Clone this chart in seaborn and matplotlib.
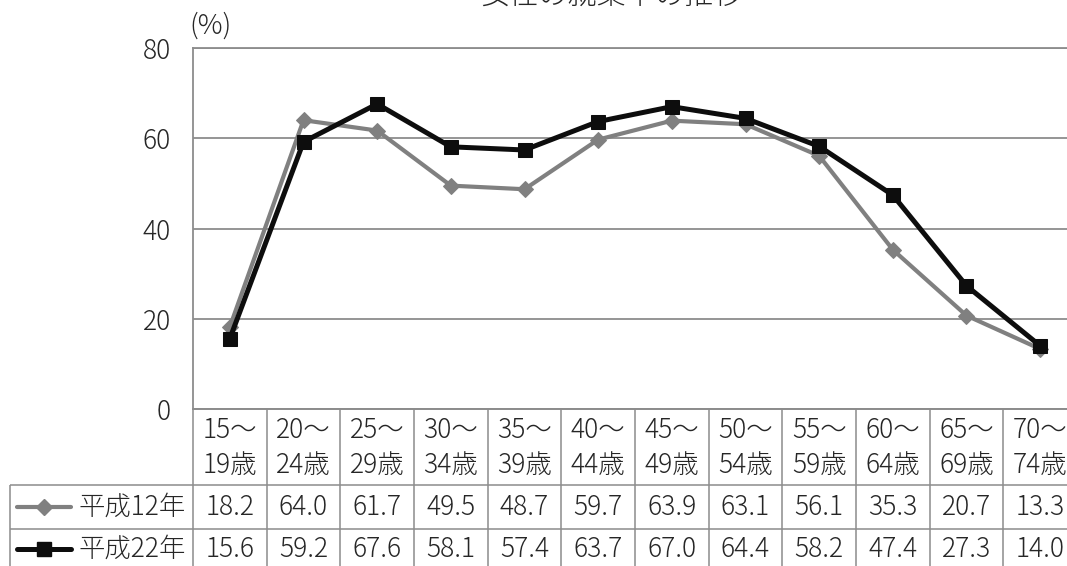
import numpy as np
import pandas as pd
import matplotlib
matplotlib.use("Agg")
import matplotlib.pyplot as plt
import seaborn as sns

# データ
age_top = ["15～", "20～", "25～", "30～", "35～", "40～", "45～", "50～", "55～", "60～", "65～", "70～"]
age_bottom = ["19歳", "24歳", "29歳", "34歳", "39歳", "44歳", "49歳", "54歳", "59歳", "64歳", "69歳", "74歳"]
years = ["平成12年", "平成22年"]
rate_h12 = [18.2, 64.0, 61.7, 49.5, 48.7, 59.7, 63.9, 63.1, 56.1, 35.3, 20.7, 13.3]
rate_h22 = [15.6, 59.2, 67.6, 58.1, 57.4, 63.7, 67.0, 64.4, 58.2, 47.4, 27.3, 14.0]
y_ticks = [0, 20, 40, 60, 80]
title = "女性の就業率の推移"

sns.set_style("white")
plt.rcParams["font.family"] = ["Noto Sans CJK JP", "DejaVu Sans"]
plt.rcParams["font.weight"] = "light"

W, H = 1067, 566
fig = plt.figure(figsize=(W / 100, H / 100), dpi=100)

# 位置 (ピクセル)
x0, x1 = 193, 1077
top, base = 48, 409
cw = (x1 - x0) / len(age_top)
grid_c = "#8c8c8c"

styles = {
    "平成12年": dict(color="#808080", marker="D", markersize=8, linewidth=3.0),
    "平成22年": dict(color="#0d0d0d", marker="s", markersize=10, linewidth=3.6),
}

df = pd.DataFrame({
    "pos": list(range(len(age_top))) * 2,
    "rate": rate_h12 + rate_h22,
    "year": [years[0]] * len(rate_h12) + [years[1]] * len(rate_h22),
})

ax = fig.add_axes([x0 / W, 1 - base / H, (x1 - x0) / W, (base - top) / H])
for yr in years:
    st = styles[yr]
    sns.lineplot(data=df[df["year"] == yr], x="pos", y="rate", ax=ax,
                 color=st["color"], marker=st["marker"], markersize=st["markersize"],
                 linewidth=st["linewidth"], markeredgecolor=st["color"],
                 markerfacecolor=st["color"], legend=False, errorbar=None)

ax.set_xlim(-0.5, len(age_top) - 0.5)
ax.set_ylim(0, 80)
ax.set_yticks(y_ticks)
ax.set_xticks([])
ax.set_xlabel("")
ax.set_ylabel("")
ax.tick_params(axis="y", length=0, pad=16, labelsize=19)
ax.yaxis.grid(True, color=grid_c, linewidth=1.3)
ax.set_axisbelow(True)
for s in ["left", "top", "bottom"]:
    ax.spines[s].set_color(grid_c)
    ax.spines[s].set_linewidth(1.3)
ax.spines["right"].set_visible(False)

fig.text(210 / W, 1 - 26 / H, "(%)", ha="center", va="center", fontsize=20)
fig.text(611 / W, 1 - 3.5 / H, title, ha="center", va="baseline", fontsize=21)

# データテーブル
tb = 573
tax = fig.add_axes([10 / W, 1 - tb / H, (x1 - 10) / W, (tb - base) / H])
tax.set_xlim(10, x1)
tax.set_ylim(tb, base)
tax.axis("off")
r1, r2 = 485, 529
lc = dict(color=grid_c, linewidth=1.1, clip_on=False)
for k in range(len(age_top) + 1):
    tax.vlines(x0 + k * cw, base, tb, **lc)
tax.vlines(10, r1, tb, **lc)
tax.hlines(base, x0, x1, **lc)
tax.hlines([r1, r2], 10, x1, **lc)

for i, (a, b) in enumerate(zip(age_top, age_bottom)):
    cx = x0 + (i + 0.5) * cw
    tax.text(cx, 430, a, ha="center", va="center", fontsize=19, clip_on=False)
    tax.text(cx, 465, b, ha="center", va="center", fontsize=19, clip_on=False)
    tax.text(cx, (r1 + r2) / 2, f"{rate_h12[i]:.1f}", ha="center", va="center", fontsize=19)
    tax.text(cx, (r2 + tb) / 2 - 2, f"{rate_h22[i]:.1f}", ha="center", va="center", fontsize=19)

for yr, yc in zip(years, [(r1 + r2) / 2, (r2 + tb) / 2 - 2]):
    st = styles[yr]
    tax.plot([17, 71], [yc, yc], color=st["color"], linewidth=st["linewidth"],
             solid_capstyle="round", clip_on=False)
    tax.plot([44], [yc], color=st["color"], marker=st["marker"],
             markersize=st["markersize"], clip_on=False)
    tax.text(78, yc, yr, ha="left", va="center", fontsize=19)

fig.savefig("out.png", dpi=100)
